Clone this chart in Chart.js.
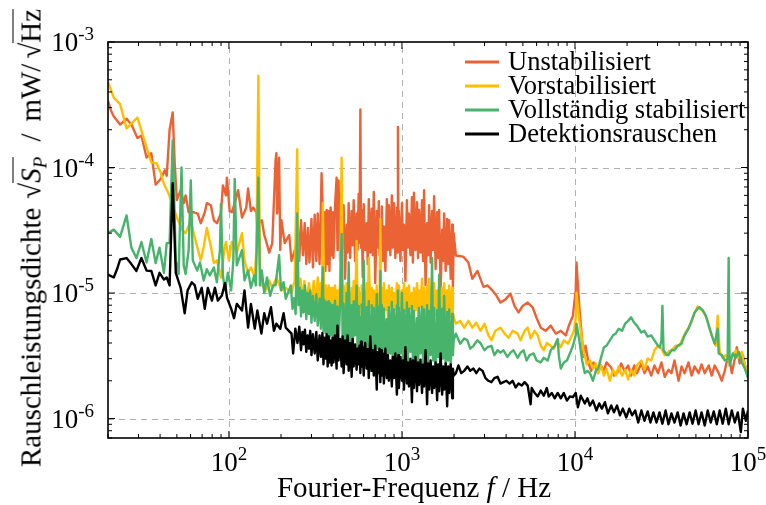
<!DOCTYPE html>
<html>
<head>
<meta charset="utf-8">
<script src="https://cdn.jsdelivr.net/npm/chart.js@4.4.1/dist/chart.umd.min.js"></script>
<style>
  body { margin: 0; background: #fff; }
  #wrap { position: relative; width: 766px; height: 505px; font-family: "Liberation Serif", "DejaVu Serif", serif; color: #000; }
  #ytitle { position: absolute; left: 31px; top: 238px; transform: translate(-50%, -50%) rotate(-90deg); white-space: nowrap; font-size: 29px; line-height: 33px; }
  #xtitle { position: absolute; left: 414px; top: 487px; transform: translate(-50%, -50%); white-space: nowrap; font-size: 29px; line-height: 32px; }
  .ov { border-top: 1.4px solid #000; padding-top: 1px; }
  sub { font-size: 19px; vertical-align: -6px; line-height: 0; }
  .g1 { margin-left: 9px; }
  .g2 { margin-left: 15px; }
  .g3 { margin-left: 12px; }
  .g4 { margin-left: 5px; }
</style>
</head>
<body>
<div id="wrap">
  <canvas id="chart" width="766" height="505"></canvas>
  <div id="ytitle">Rauschleistungsdichte<span class="g1">√<span class="ov"><i>S</i><sub><i>P</i></sub></span></span><span class="g2">/</span><span class="g3">mW/</span><span class="g4">√<span class="ov">Hz</span></span></div>
  <div id="xtitle">Fourier-Frequenz <i>f</i> / Hz</div>
</div>
<script>
// ==============================
// DATA  (frequency in Hz, value in mW/sqrt(Hz))
// ==============================
const seriesNames = ["Unstabilisiert", "Vorstabilisiert", "Vollständig stabilisiert", "Detektionsrauschen"];
const seriesColors = ["#eb6235", "#ffbe00", "#47b36b", "#000000"];

const xTickExp = [2, 3, 4, 5];
const yTickExp = [-3, -4, -5, -6];

// shared FFT bins of the dense 400 Hz - 2 kHz part
const bandFreq = [392, 397, 402, 410, 419, 424, 430, 439, 448, 454, 460, 469, 479, 485, 492, 502, 512, 519, 526, 536,
  547, 554, 562, 568, 575, 580, 585, 593, 601, 613, 626, 634, 643, 656, 669, 678, 687, 701, 715, 725,
  735, 742, 750, 757, 765, 775, 786, 802, 818, 829, 840, 857, 874, 886, 898, 916, 935, 941, 948, 954,
  960, 980, 1000, 1013, 1027, 1047, 1068, 1082, 1097, 1119, 1142, 1157, 1173, 1197, 1222, 1238, 1255, 1280, 1306, 1324,
  1342, 1369, 1397, 1416, 1435, 1464, 1493, 1513, 1534, 1565, 1597, 1618, 1640, 1673, 1707, 1730, 1753, 1789, 1825, 1850,
  1875, 1913, 1951, 1970, 1990];

// Unstabilisiert
const redLowF = [20, 20.8, 21.6, 23.5, 25.6, 27.3, 29.6, 31.2, 33.4, 35.6, 37.7, 40.3, 42.6, 43.7, 45.4, 47.3, 48.6, 50, 52.6, 54.8,
  56.2, 58.5, 62.6, 66.0, 68.7, 72.5, 74.5, 78.6, 81.8, 85.2, 89.9, 92.3, 96.1, 97.4, 101, 104, 108, 113, 119, 126,
  129, 134, 138, 144, 146, 149, 155, 160, 164, 171, 178, 186, 188, 190, 195, 198, 201, 210, 223, 230,
  245, 250, 255, 261, 268, 274, 280, 286, 292, 300, 306, 313, 320, 326, 334, 339, 343, 347, 352, 356,
  361, 367, 372, 377, 381, 387];
const redLowV = [3.4e-4, 2.85e-4, 2.55e-4, 2.2e-4, 2.45e-4, 2.2e-4, 1.72e-4, 1.8e-4, 1.2e-4, 1.3e-4, 7.3e-5, 8.1e-5, 9.5e-5, 8.6e-5, 2.0e-4,
  2.75e-4, 1.08e-4, 5.5e-5, 6.6e-5, 5.2e-5, 6.0e-5, 4.4e-5, 4.4e-5, 4.3e-5, 3.6e-5, 4.4e-5, 5.2e-5, 5.0e-5, 3.8e-5, 3.6e-5,
  4.3e-5, 7.2e-5, 6.0e-5, 8.3e-5, 4.5e-5, 4.4e-5, 5.2e-5, 6.6e-5, 4.0e-5, 4.8e-5, 6.8e-5, 4.5e-5, 4.8e-5, 4.4e-5, 3.3e-5,
  3.6e-5, 3.8e-5, 2.9e-5, 2.6e-5, 2.1e-5, 2.5e-5, 1.14e-4, 1.3e-4, 4.3e-5, 1.2e-4, 2.2e-5, 3.8e-5, 2.5e-5, 2.9e-5, 1.8e-5,
  2.4e-5, 3.4e-5, 1.8e-5, 3.8e-5, 2.0e-5, 3.6e-5, 1.7e-5, 3.3e-5, 1.75e-5, 3.9e-5, 1.6e-5, 4.2e-5, 1.8e-5, 4.3e-5, 1.7e-5,
  4.0e-5, 9.0e-5, 5.5e-5, 1.6e-5, 4.4e-5, 1.5e-5, 4.6e-5, 1.7e-5, 4.5e-5, 1.5e-5, 4.8e-5];
const redBandV = [2.0e-5, 4.4e-5, 1.9e-5, 4.8e-5, 8.3e-5, 2.2e-5, 7.9e-5, 1.8e-5, 4.6e-5, 2.3e-5,
  5.0e-5, 1.3e-5, 3.5e-5, 2.1e-5, 5.2e-5, 1.9e-5, 4.5e-5, 2.4e-5, 5.5e-5, 1.8e-5,
  4.3e-5, 2.2e-5, 6.2e-5, 2.5e-5, 2.9e-4, 2.3e-5, 4.6e-5, 1.35e-5, 5.1e-5, 2.2e-5,
  3.6e-5, 1.7e-5, 5.6e-5, 2.1e-5, 4.7e-5, 2.0e-5, 6.4e-5, 1.2e-5, 4.5e-5, 2.3e-5,
  5.4e-5, 2.0e-5, 3.3e-5, 2.4e-5, 4.9e-5, 1.8e-5, 3.4e-5, 1.5e-5, 5.6e-5, 2.2e-5,
  5.0e-5, 2.0e-5, 6.0e-5, 2.3e-5, 5.2e-5, 1.9e-5, 4.8e-5, 2.1e-5, 2.1e-4, 2.4e-5,
  4.5e-5, 1.8e-5, 5.2e-5, 2.2e-5, 3.5e-5, 1.25e-5, 5.5e-5, 2.3e-5, 4.3e-5, 2.0e-5,
  5.8e-5, 1.75e-5, 6.3e-5, 2.2e-5, 5.3e-5, 1.9e-5, 4.6e-5, 2.1e-5, 5.5e-5, 1.8e-5,
  6.6e-5, 1.15e-5, 3.6e-5, 2.0e-5, 5.0e-5, 1.75e-5, 4.5e-5, 2.2e-5, 5.9e-5, 1.55e-5,
  4.4e-5, 1.9e-5, 4.6e-5, 1.05e-5, 3.2e-5, 1.8e-5, 4.3e-5, 1.5e-5, 3.9e-5, 1.7e-5,
  3.8e-5, 1.3e-5, 3.5e-5, 1.05e-5, 3.0e-5];
const redHighF = [2050, 2260, 2420, 2550, 2730, 2960, 3120, 3330, 3520, 3710, 3970, 4240, 4470, 4720, 4980, 5330, 5690, 6010, 6340, 6770,
  7240, 7740, 8280, 8850, 9220, 9730, 10100, 10200, 10600, 11200, 11500, 12000, 12400, 12800, 13600, 14100, 14700, 15200, 16200, 16800,
  17500, 18500, 19300, 20300, 21100, 22000, 22800, 24200, 25200, 26300, 27600, 28800, 30200, 31600, 33000, 34700, 36100, 37600, 39700, 41300,
  43000, 45300, 47200, 49100, 51800, 53900, 56200, 59300, 61700, 64200, 67700, 70500, 73400, 77300, 80600, 83900, 86100, 89600, 93400, 97200, 100000];
const redHighV = [1.99e-5, 1.95e-5, 1.75e-5, 1.3e-5, 1.5e-5, 1.12e-5, 1.15e-5, 1.05e-5, 9.5e-6, 8.4e-6, 8.9e-6, 9.9e-6, 7.9e-6, 7.0e-6, 7.9e-6,
  8.4e-6, 7.7e-6, 6.3e-6, 5.3e-6, 5.0e-6, 5.5e-6, 4.75e-6, 5.0e-6, 4.6e-6, 5.5e-6, 6.6e-6, 1.05e-5, 1.75e-5, 7.7e-6, 3.1e-6,
  3.8e-6, 2.75e-6, 2.4e-6, 2.8e-6, 2.3e-6, 2.65e-6, 2.4e-6, 2.8e-6, 2.55e-6, 2.2e-6, 2.3e-6, 2.75e-6, 2.4e-6, 2.65e-6, 2.2e-6,
  2.65e-6, 2.3e-6, 2.75e-6, 2.3e-6, 2.6e-6, 2.2e-6, 2.65e-6, 2.3e-6, 2.8e-6, 2.15e-6, 2.45e-6, 2.3e-6, 2.9e-6, 2.0e-6, 2.6e-6,
  2.3e-6, 2.8e-6, 2.2e-6, 2.6e-6, 2.3e-6, 2.7e-6, 2.3e-6, 2.65e-6, 2.2e-6, 2.65e-6, 2.3e-6, 2.0e-6, 2.4e-6, 3.3e-6, 2.3e-6,
  3.0e-6, 3.7e-6, 2.75e-6, 3.2e-6, 2.4e-6, 2.65e-6];

// Vorstabilisiert
const yelLowF = [20, 21.6, 23.5, 25.6, 27.3, 29.6, 31.2, 33.4, 35.6, 38.2, 40.3, 42.1, 44.8, 50, 53.9, 56.2, 60.2, 62.6, 65.5, 68.7,
  71.5, 74.5, 78.6, 81.8, 85.2, 89.9, 94.6, 96.1, 100, 104, 111, 119, 123, 129, 134, 141, 144, 148, 151, 155,
  164, 171, 178, 188, 201, 213, 230, 240, 248, 252, 259, 266, 273, 280, 290, 300, 309, 318, 326, 333,
  339, 345, 349, 356, 363, 370, 377, 381, 387];
const yelLowV = [4.8e-4, 3.6e-4, 3.2e-4, 2.05e-4, 2.25e-4, 2.5e-4, 1.97e-4, 1.45e-4, 1.1e-4, 1.08e-4, 9.1e-5, 7.4e-5, 6.2e-5, 4.0e-5, 3.15e-5,
  3.0e-5, 3.8e-5, 3.0e-5, 2.35e-5, 1.82e-5, 2.35e-5, 3.3e-5, 2.35e-5, 1.73e-5, 1.82e-5, 1.33e-5, 2.35e-5, 2.55e-5, 1.82e-5, 2.55e-5,
  2.1e-5, 3.0e-5, 1.82e-5, 1.45e-5, 1.6e-5, 1.33e-5, 2.2e-5, 5.4e-4, 1.66e-5, 1.15e-5, 1.05e-5, 1.26e-5, 1.1e-5, 1.33e-5, 1.05e-5,
  1.1e-5, 1.0e-5, 1.26e-5, 1.4e-4, 1.05e-5, 1.3e-5, 8.8e-6, 1.25e-5, 8.5e-6, 1.2e-5, 8.2e-6, 1.25e-5, 8.0e-6, 1.33e-5, 7.8e-6,
  1.2e-5, 7.6e-6, 5.2e-5, 7.8e-6, 1.15e-5, 7.4e-6, 1.15e-5, 7.3e-6, 1.1e-5];
const yelBandV = [8.7e-6, 1.1e-5, 7.5e-6, 1.15e-5, 7.0e-6, 1.05e-5, 8.0e-6, 1.2e-5, 1.2e-4, 8.2e-6,
  1.15e-5, 7.0e-6, 1.2e-5, 7.6e-6, 1.05e-5, 6.8e-6, 1.1e-5, 8.0e-6, 1.25e-5, 7.2e-6,
  2.6e-5, 7.5e-6, 1.1e-5, 6.6e-6, 1.0e-5, 7.8e-6, 1.15e-5, 6.9e-6, 1.05e-5, 7.4e-6,
  1.2e-5, 6.5e-6, 1.9e-5, 7.7e-6, 1.1e-5, 6.4e-6, 1.05e-5, 7.2e-6, 1.15e-5, 6.3e-6,
  1.0e-5, 7.5e-6, 3.9e-5, 7.0e-6, 1.1e-5, 6.6e-6, 1.2e-5, 7.3e-6, 1.05e-5, 6.4e-6,
  1.15e-5, 7.8e-6, 1.1e-5, 6.7e-6, 1.0e-5, 7.4e-6, 1.2e-5, 7.0e-6, 1.1e-5, 6.5e-6,
  1.15e-5, 7.6e-6, 1.05e-5, 6.8e-6, 1.2e-5, 7.2e-6, 1.1e-5, 6.4e-6, 1.15e-5, 7.5e-6,
  1.0e-5, 6.9e-6, 1.1e-5, 7.3e-6, 1.2e-5, 6.6e-6, 1.05e-5, 7.8e-6, 1.3e-5, 7.0e-6,
  1.1e-5, 6.5e-6, 1.15e-5, 7.4e-6, 1.3e-5, 6.8e-6, 1.1e-5, 7.6e-6, 1.2e-5, 6.6e-6,
  1.05e-5, 7.3e-6, 1.15e-5, 6.7e-6, 1.1e-5, 7.5e-6, 1.2e-5, 6.9e-6, 1.05e-5, 7.4e-6,
  1.15e-5, 6.5e-6, 1.1e-5, 7.0e-6, 6.4e-6];
const yelHighF = [2050, 2170, 2290, 2420, 2550, 2690, 2840, 3000, 3160, 3290, 3470, 3710, 3920, 4130, 4360, 4660, 4850, 5120, 5330, 5540,
  5850, 6090, 6340, 6600, 6870, 7240, 7550, 7850, 8280, 8620, 9100, 9470, 9860, 10100, 10200, 10600, 11200, 11700, 12200, 12700,
  13200, 13600, 14100, 14700, 15200, 15900, 16600, 17200, 17900, 18700, 19500, 20300, 21100, 22000, 22800, 24200, 25200, 26300, 27600, 28800,
  30200, 31600, 33000, 34700, 36100, 38100, 40300, 41900, 43600, 45300, 47200, 49100, 51100, 53200, 55500, 57800, 60100, 62500, 65100, 66800,
  68600, 71400, 74400, 78300, 81600, 85000, 88400, 92100, 96000, 100000];
const yelHighV = [5.7e-6, 6.0e-6, 5.3e-6, 6.0e-6, 5.3e-6, 5.8e-6, 5.0e-6, 5.7e-6, 4.6e-6, 4.2e-6, 5.0e-6, 5.3e-6, 4.75e-6, 4.4e-6, 5.0e-6,
  4.75e-6, 4.2e-6, 5.0e-6, 5.3e-6, 4.35e-6, 5.0e-6, 4.6e-6, 3.8e-6, 3.5e-6, 4.0e-6, 3.8e-6, 3.6e-6, 4.2e-6, 3.7e-6, 4.2e-6,
  3.95e-6, 4.4e-6, 5.0e-6, 6.3e-6, 1.0e-5, 6.0e-6, 3.5e-6, 2.7e-6, 2.9e-6, 2.5e-6, 2.75e-6, 2.3e-6, 2.65e-6, 2.2e-6, 2.5e-6,
  2.0e-6, 2.45e-6, 2.2e-6, 2.6e-6, 2.2e-6, 2.45e-6, 2.05e-6, 2.45e-6, 2.2e-6, 2.65e-6, 2.9e-6, 2.45e-6, 3.0e-6, 2.9e-6, 3.5e-6,
  3.8e-6, 3.6e-6, 3.2e-6, 3.4e-6, 3.5e-6, 3.8e-6, 3.8e-6, 4.35e-6, 4.85e-6, 5.3e-6, 6.0e-6, 6.9e-6, 7.8e-6, 7.5e-6, 7.0e-6,
  6.3e-6, 5.2e-6, 4.4e-6, 3.8e-6, 6.6e-6, 3.4e-6, 3.05e-6, 3.2e-6, 2.8e-6, 3.2e-6, 3.5e-6, 3.05e-6, 3.4e-6, 2.65e-6, 2.3e-6];

// Vollständig stabilisiert
const grnLowF = [20, 21.6, 23.5, 25.6, 27.3, 29.2, 31.2, 33.4, 35.6, 37.7, 39.7, 42.1, 43.7, 45.4, 47.3, 49.3, 51.2, 53.2, 54.8, 56.2,
  58.5, 60.2, 61.8, 65.5, 68.0, 71.5, 74.5, 77.5, 81.8, 85.2, 88.7, 89.9, 92.3, 94.9, 98.7, 103, 106, 108, 111, 119,
  123, 129, 134, 140, 143, 148, 151, 155, 160, 166, 173, 180, 186, 195, 200, 207, 213, 228, 233, 238,
  243, 248, 252, 257, 261, 266, 270, 275, 280, 285, 290, 295, 300, 306, 313, 320, 326, 334, 340, 349,
  352, 356, 361, 367, 372, 377, 381, 387];
const grnLowV = [3.0e-5, 3.2e-5, 2.8e-5, 4.15e-5, 2.3e-5, 1.9e-5, 2.55e-5, 1.75e-5, 2.7e-5, 1.73e-5, 2.3e-5, 1.45e-5, 2.5e-5, 2.5e-5, 1.64e-4,
  1.82e-5, 1.42e-5, 1.0e-4, 1.66e-5, 1.42e-5, 2.2e-5, 7.9e-5, 1.82e-5, 1.51e-5, 1.75e-5, 1.26e-5, 1.55e-5, 1.38e-5, 1.6e-5, 1.22e-5,
  2.2e-5, 5.1e-5, 1.38e-5, 1.05e-5, 1.45e-5, 1.05e-5, 1.82e-5, 8.1e-5, 1.66e-5, 2.2e-5, 1.26e-5, 1.51e-5, 1.1e-5, 1.38e-5, 1.15e-5,
  8.3e-5, 1.15e-5, 1.51e-5, 1.0e-5, 1.33e-5, 9.5e-6, 1.15e-5, 1.15e-5, 2.0e-5, 1.05e-5, 1.22e-5, 9.0e-6, 1.15e-5, 7.5e-6, 9.1e-6,
  6.8e-6, 4.3e-5, 8.0e-6, 1.1e-5, 6.5e-6, 1.05e-5, 7.0e-6, 1.15e-5, 6.2e-6, 1.0e-5, 6.8e-6, 1.05e-5, 5.8e-6, 9.5e-6, 6.0e-6,
  9.8e-6, 5.5e-6, 9.0e-6, 5.2e-6, 1.6e-5, 5.0e-6, 8.8e-6, 4.8e-6, 8.5e-6, 4.5e-6, 8.6e-6, 4.4e-6, 8.3e-6];
const grnBandV = [4.6e-6, 8.0e-6, 3.8e-6, 8.7e-6, 4.2e-6, 7.8e-6, 3.6e-6, 8.5e-6, 2.95e-5, 4.0e-6,
  8.2e-6, 3.5e-6, 1.0e-5, 4.1e-6, 1.75e-5, 3.7e-6, 8.0e-6, 3.3e-6, 8.6e-6, 4.6e-6,
  1.15e-5, 3.4e-6, 7.9e-6, 3.9e-6, 6.4e-6, 3.2e-6, 8.1e-6, 3.6e-6, 1.82e-5, 3.3e-6,
  7.7e-6, 3.8e-6, 8.6e-6, 2.4e-6, 8.0e-6, 3.5e-6, 7.6e-6, 3.0e-6, 9.8e-6, 3.6e-6,
  7.8e-6, 3.2e-6, 1.5e-5, 3.4e-6, 8.0e-6, 2.9e-6, 7.5e-6, 3.5e-6, 6.2e-6, 3.0e-6,
  7.7e-6, 3.3e-6, 8.5e-6, 2.2e-6, 7.4e-6, 3.4e-6, 8.0e-6, 3.1e-6, 1.05e-5, 2.9e-6,
  7.6e-6, 3.3e-6, 1.0e-5, 2.7e-6, 7.3e-6, 3.2e-6, 8.4e-6, 2.8e-6, 7.5e-6, 3.4e-6,
  7.9e-6, 2.7e-6, 7.2e-6, 3.1e-6, 6.3e-6, 2.1e-6, 7.6e-6, 3.3e-6, 7.8e-6, 2.8e-6,
  7.4e-6, 3.0e-6, 8.0e-6, 2.6e-6, 7.2e-6, 3.2e-6, 1.9e-5, 2.9e-6, 7.6e-6, 2.0e-6,
  7.3e-6, 3.1e-6, 1.4e-5, 2.7e-6, 7.5e-6, 3.0e-6, 9.5e-6, 2.6e-6, 7.1e-6, 2.9e-6,
  7.4e-6, 2.6e-6, 6.8e-6, 3.2e-6, 4.2e-6];
const grnHighF = [2050, 2170, 2290, 2390, 2480, 2590, 2730, 2840, 3000, 3120, 3290, 3420, 3570, 3710, 3860, 4070, 4240, 4410, 4660, 4850,
  5050, 5250, 5470, 5770, 6000, 6340, 6600, 6960, 7240, 7640, 7950, 8060, 8280, 8620, 8980, 9340, 9730, 10100, 10200, 10600,
  11000, 11400, 11800, 12200, 12700, 13200, 13600, 14100, 14700, 15200, 15900, 16600, 17200, 17900, 18700, 19500, 20300, 21100, 22000, 22800,
  24200, 25200, 26300, 27600, 28800, 30200, 31000, 31600, 32000, 32500, 34000, 34700, 36100, 37600, 39200, 41300, 43000, 45300, 47200, 49100,
  51100, 52500, 54700, 57000, 59300, 61700, 64200, 66800, 67700, 70500, 73400, 76300, 77300, 78300, 81600, 85000, 88400, 92100, 96000, 100000];
const grnHighV = [4.75e-6, 3.95e-6, 4.35e-6, 4.2e-6, 3.6e-6, 3.8e-6, 4.2e-6, 4.0e-6, 3.5e-6, 3.7e-6, 3.8e-6, 3.2e-6, 3.5e-6, 3.35e-6, 3.5e-6,
  3.1e-6, 3.35e-6, 3.5e-6, 3.05e-6, 3.35e-6, 3.5e-6, 2.9e-6, 3.2e-6, 3.3e-6, 2.9e-6, 2.8e-6, 3.05e-6, 2.9e-6, 3.5e-6, 3.8e-6,
  4.3e-6, 3.2e-6, 2.5e-6, 2.8e-6, 2.9e-6, 3.3e-6, 3.8e-6, 4.6e-6, 5.7e-6, 4.2e-6, 2.9e-6, 2.3e-6, 2.4e-6, 2.3e-6, 2.0e-6,
  2.4e-6, 2.5e-6, 3.0e-6, 3.7e-6, 3.8e-6, 4.2e-6, 4.6e-6, 4.75e-6, 5.2e-6, 5.0e-6, 5.7e-6, 6.0e-6, 6.4e-6, 5.8e-6, 5.5e-6,
  4.85e-6, 5.0e-6, 4.5e-6, 4.6e-6, 4.2e-6, 3.8e-6, 3.7e-6, 4.2e-6, 7.9e-6, 3.5e-6, 3.2e-6, 3.2e-6, 3.5e-6, 3.5e-6, 3.8e-6,
  3.95e-6, 4.6e-6, 5.2e-6, 6.0e-6, 7.0e-6, 7.5e-6, 7.7e-6, 7.3e-6, 6.6e-6, 5.5e-6, 4.6e-6, 3.95e-6, 5.2e-6, 3.3e-6, 3.2e-6,
  2.9e-6, 3.0e-6, 1.9e-5, 2.65e-6, 3.3e-6, 3.05e-6, 3.4e-6, 2.8e-6, 2.5e-6, 2.1e-6];

// Detektionsrauschen
const blkLowF = [20, 21.6, 22.6, 23.5, 25.6, 27.3, 29.2, 31.2, 33.4, 35.6, 37.7, 39.7, 42.1, 43.7, 45.4, 47.3, 49.3, 52.6, 55.5, 57.7,
  61.0, 63.5, 66.0, 69.6, 72.5, 75.5, 79.7, 83.0, 86.3, 91.0, 95.0, 97.4, 103, 107, 111, 119, 123, 129, 134, 141,
  146, 154, 160, 166, 175, 182, 188, 198, 207, 213, 230, 235, 242, 249, 255, 261, 266, 270, 275, 280,
  285, 290, 295, 300, 306, 313, 320, 326, 334, 340, 347, 352, 356, 361, 367, 372, 377, 381, 387];
const blkLowV = [1.4e-5, 1.33e-5, 1.56e-5, 1.85e-5, 1.9e-5, 1.7e-5, 1.5e-5, 1.9e-5, 1.51e-5, 1.5e-5, 1.15e-5, 1.45e-5, 1.28e-5, 1.33e-5, 1.15e-5,
  7.5e-5, 1.45e-5, 1.1e-5, 6.9e-6, 1.05e-5, 1.22e-5, 1.15e-5, 9.0e-6, 1.1e-5, 7.5e-6, 1.1e-5, 8.7e-6, 1.1e-5, 8.7e-6, 9.55e-6,
  1.2e-5, 9.2e-6, 7.5e-6, 6.3e-6, 8.2e-6, 7.26e-6, 1.05e-5, 5.3e-6, 8.2e-6, 5.2e-6, 7.26e-6, 4.75e-6, 6.9e-6, 5.7e-6, 7.7e-6,
  5.0e-6, 5.7e-6, 5.2e-6, 6.9e-6, 5.3e-6, 4.75e-6, 3.3e-6, 5.2e-6, 4.0e-6, 5.4e-6, 3.5e-6, 4.9e-6, 3.9e-6, 5.1e-6, 3.4e-6,
  4.6e-6, 3.6e-6, 5.0e-6, 3.2e-6, 4.7e-6, 3.3e-6, 4.9e-6, 2.9e-6, 4.6e-6, 3.1e-6, 4.8e-6, 2.7e-6, 4.4e-6, 3.0e-6, 4.7e-6,
  2.6e-6, 4.5e-6, 2.8e-6, 4.2e-6];
const blkBandV = [2.65e-6, 4.4e-6, 2.8e-6, 4.6e-6, 2.5e-6, 5.5e-6, 2.9e-6, 4.3e-6, 2.6e-6, 4.5e-6,
  2.3e-6, 4.2e-6, 2.7e-6, 4.6e-6, 2.4e-6, 4.0e-6, 2.15e-6, 4.3e-6, 2.6e-6, 3.9e-6,
  2.45e-6, 3.6e-6, 2.7e-6, 3.8e-6, 2.3e-6, 4.1e-6, 2.6e-6, 3.7e-6, 2.2e-6, 4.0e-6,
  2.5e-6, 3.6e-6, 2.1e-6, 4.5e-6, 2.4e-6, 3.5e-6, 2.2e-6, 3.8e-6, 1.7e-6, 3.4e-6,
  2.3e-6, 3.6e-6, 1.95e-6, 3.5e-6, 2.2e-6, 3.3e-6, 1.9e-6, 3.6e-6, 2.1e-6, 3.2e-6,
  2.0e-6, 2.9e-6, 1.8e-6, 3.1e-6, 2.1e-6, 3.3e-6, 1.55e-6, 3.0e-6, 2.05e-6, 3.2e-6,
  1.75e-6, 3.1e-6, 2.0e-6, 2.9e-6, 1.7e-6, 3.7e-6, 1.9e-6, 2.8e-6, 1.8e-6, 3.0e-6,
  1.35e-6, 2.9e-6, 1.75e-6, 3.1e-6, 1.65e-6, 2.8e-6, 1.85e-6, 2.95e-6, 1.6e-6, 2.7e-6,
  1.8e-6, 3.5e-6, 1.3e-6, 2.75e-6, 1.7e-6, 2.9e-6, 1.6e-6, 2.6e-6, 1.75e-6, 2.8e-6,
  1.4e-6, 2.7e-6, 1.65e-6, 3.3e-6, 1.55e-6, 2.6e-6, 1.7e-6, 2.75e-6, 1.25e-6, 2.6e-6,
  1.6e-6, 2.7e-6, 1.45e-6, 2.5e-6, 2.2e-6];
const blkHighF = [2050, 2120, 2200, 2290, 2390, 2480, 2590, 2690, 2800, 2920, 3040, 3160, 3290, 3420, 3570, 3710, 3860, 4020, 4190, 4360,
  4540, 4720, 4920, 5120, 5330, 5540, 5620, 5850, 6090, 6340, 6600, 6870, 7050, 7340, 7640, 7950, 8280, 8620, 8980, 9340,
  9730, 10100, 10400, 10800, 11400, 11800, 12200, 12700, 13300, 13800, 14300, 14900, 15500, 16200, 16800, 17500, 18200, 18900, 19800, 20600,
  21400, 22300, 23200, 24200, 25200, 26300, 27300, 28400, 29600, 30800, 32000, 33400, 34700, 36100, 37600, 39200, 40800, 42400, 44200, 46000,
  47800, 49800, 51800, 53900, 56200, 58500, 60900, 63400, 66000, 68600, 71400, 74400, 77300, 80600, 83900, 87300, 90900, 93400, 97200, 100000];
const blkHighV = [2.3e-6, 2.65e-6, 2.3e-6, 2.4e-6, 2.6e-6, 2.4e-6, 2.5e-6, 2.3e-6, 2.5e-6, 2.4e-6, 2.1e-6, 2.0e-6, 1.95e-6, 2.1e-6, 2.15e-6,
  1.9e-6, 1.95e-6, 2.0e-6, 1.9e-6, 2.0e-6, 1.77e-6, 1.9e-6, 1.83e-6, 1.95e-6, 1.83e-6, 1.3e-6, 1.75e-6, 1.6e-6, 1.5e-6, 1.67e-6,
  1.52e-6, 1.75e-6, 1.5e-6, 1.6e-6, 1.45e-6, 1.6e-6, 1.45e-6, 1.6e-6, 1.39e-6, 1.5e-6, 1.48e-6, 1.6e-6, 1.23e-6, 1.52e-6, 1.32e-6,
  1.45e-6, 1.27e-6, 1.39e-6, 1.16e-6, 1.32e-6, 1.2e-6, 1.35e-6, 1.1e-6, 1.27e-6, 1.12e-6, 1.27e-6, 1.06e-6, 1.2e-6, 1.02e-6, 1.2e-6,
  1.06e-6, 1.16e-6, 9.3e-7, 1.16e-6, 9.6e-7, 1.14e-6, 9.3e-7, 1.12e-6, 9.3e-7, 1.12e-6, 9.1e-7, 1.16e-6, 9.0e-7, 1.1e-6, 9.3e-7,
  1.12e-6, 8.8e-7, 1.1e-6, 9.0e-7, 1.12e-6, 9.1e-7, 1.16e-6, 9.0e-7, 1.12e-6, 8.8e-7, 1.16e-6, 9.3e-7, 1.14e-6, 9.0e-7, 1.16e-6,
  9.1e-7, 1.2e-6, 9.0e-7, 1.16e-6, 9.3e-7, 1.12e-6, 7.8e-7, 1.2e-6, 9.6e-7, 1.16e-6];


// ==============================
// HELPERS
// ==============================
function pts(f, v) {
    return f.map((x, i) => ({ x: x, y: v[i] }));
}

function seriesData(lowF, lowV, bandV, highF, highV) {
    return pts(lowF, lowV).concat(pts(bandFreq, bandV), pts(highF, highV));
}

const SERIF = '"Liberation Serif", "DejaVu Serif", serif';

function drawPower(ctx, exp, x, y, align) {
    // "10" with a raised exponent
    ctx.font = "27px " + SERIF;
    const wb = ctx.measureText("10").width;
    ctx.font = "19px " + SERIF;
    const we = ctx.measureText(String(exp)).width;
    let x0 = align === "right" ? x - wb - we : x - (wb + we) / 2;
    ctx.textAlign = "left";
    ctx.textBaseline = "alphabetic";
    ctx.font = "27px " + SERIF;
    ctx.fillText("10", x0, y);
    ctx.font = "19px " + SERIF;
    ctx.fillText(String(exp), x0 + wb, y - 11);
}


// ==============================
// AXES / FRAME / LEGEND PLUGIN
// ==============================
const axesPlugin = {
    id: "axesPlugin",

    beforeDatasetsDraw(chart) {
        const { ctx, chartArea: a, scales } = chart;
        ctx.save();
        ctx.strokeStyle = "#b0b0b0";
        ctx.lineWidth = 1;
        ctx.setLineDash([6, 5]);
        xTickExp.forEach(e => {
            const px = Math.round(scales.x.getPixelForValue(Math.pow(10, e))) + 0.5;
            if (px > a.left + 2 && px < a.right - 2) {
                ctx.beginPath();
                ctx.moveTo(px, a.bottom);
                ctx.lineTo(px, a.top);
                ctx.stroke();
            }
        });
        yTickExp.forEach(e => {
            const py = Math.round(scales.y.getPixelForValue(Math.pow(10, e))) + 0.5;
            if (py > a.top + 2 && py < a.bottom - 2) {
                ctx.beginPath();
                ctx.moveTo(a.left, py);
                ctx.lineTo(a.right, py);
                ctx.stroke();
            }
        });
        ctx.restore();
    },

    afterDatasetsDraw(chart) {
        const { ctx, chartArea: a, scales } = chart;
        ctx.save();

        // frame
        ctx.strokeStyle = "#000";
        ctx.lineWidth = 1.6;
        ctx.strokeRect(a.left, a.top, a.right - a.left, a.bottom - a.top);

        // ticks (inside, all four sides)
        ctx.lineWidth = 1;
        for (let d = 1; d <= 5; d++) {
            for (let m = 1; m <= 9; m++) {
                const v = m * Math.pow(10, d);
                if (v < scales.x.min || v > scales.x.max) continue;
                const px = scales.x.getPixelForValue(v);
                const len = m === 1 ? 7 : 4;
                ctx.beginPath();
                ctx.moveTo(px, a.bottom); ctx.lineTo(px, a.bottom - len);
                ctx.moveTo(px, a.top); ctx.lineTo(px, a.top + len);
                ctx.stroke();
            }
        }
        for (let d = -7; d <= -3; d++) {
            for (let m = 1; m <= 9; m++) {
                const v = m * Math.pow(10, d);
                if (v < scales.y.min || v > scales.y.max) continue;
                const py = scales.y.getPixelForValue(v);
                const len = m === 1 ? 7 : 4;
                ctx.beginPath();
                ctx.moveTo(a.left, py); ctx.lineTo(a.left + len, py);
                ctx.moveTo(a.right, py); ctx.lineTo(a.right - len, py);
                ctx.stroke();
            }
        }

        // tick labels
        ctx.fillStyle = "#000";
        xTickExp.forEach(e => {
            const px = scales.x.getPixelForValue(Math.pow(10, e));
            drawPower(ctx, e, px, a.bottom + 33, "center");
        });
        yTickExp.forEach(e => {
            const py = scales.y.getPixelForValue(Math.pow(10, e));
            drawPower(ctx, e, 94, py + 9, "right");
        });

        // legend
        seriesNames.forEach((name, i) => {
            const ly = 62 + i * 24;
            ctx.strokeStyle = seriesColors[i];
            ctx.lineWidth = 3;
            ctx.beginPath();
            ctx.moveTo(465, ly);
            ctx.lineTo(499, ly);
            ctx.stroke();
            ctx.fillStyle = "#000";
            ctx.font = "26.5px " + SERIF;
            ctx.textAlign = "left";
            ctx.textBaseline = "middle";
            ctx.fillText(name, 508, ly + 1);
        });

        ctx.restore();
    }
};


// ==============================
// CHART
// ==============================
const lowF = [redLowF, yelLowF, grnLowF, blkLowF];
const lowV = [redLowV, yelLowV, grnLowV, blkLowV];
const bandV = [redBandV, yelBandV, grnBandV, blkBandV];
const highF = [redHighF, yelHighF, grnHighF, blkHighF];
const highV = [redHighV, yelHighV, grnHighV, blkHighV];

const datasets = seriesNames.map((name, i) => ({
    label: name,
    data: seriesData(lowF[i], lowV[i], bandV[i], highF[i], highV[i]),
    borderColor: seriesColors[i],
    borderWidth: 2.4,
    borderJoinStyle: "round",
    pointRadius: 0,
    tension: 0,
    fill: false,
    order: 4 - i
}));

new Chart(document.getElementById("chart"), {
    type: "line",
    data: { datasets },
    options: {
        responsive: false,
        animation: false,
        events: [],
        layout: { padding: { left: 108, right: 18, top: 42, bottom: 67 } },
        plugins: { legend: { display: false }, tooltip: { enabled: false } },
        scales: {
            x: { type: "logarithmic", min: 20, max: 1e5, display: false },
            y: { type: "logarithmic", min: 7e-7, max: 1e-3, display: false }
        }
    },
    plugins: [axesPlugin]
});
</script>
</body>
</html>
